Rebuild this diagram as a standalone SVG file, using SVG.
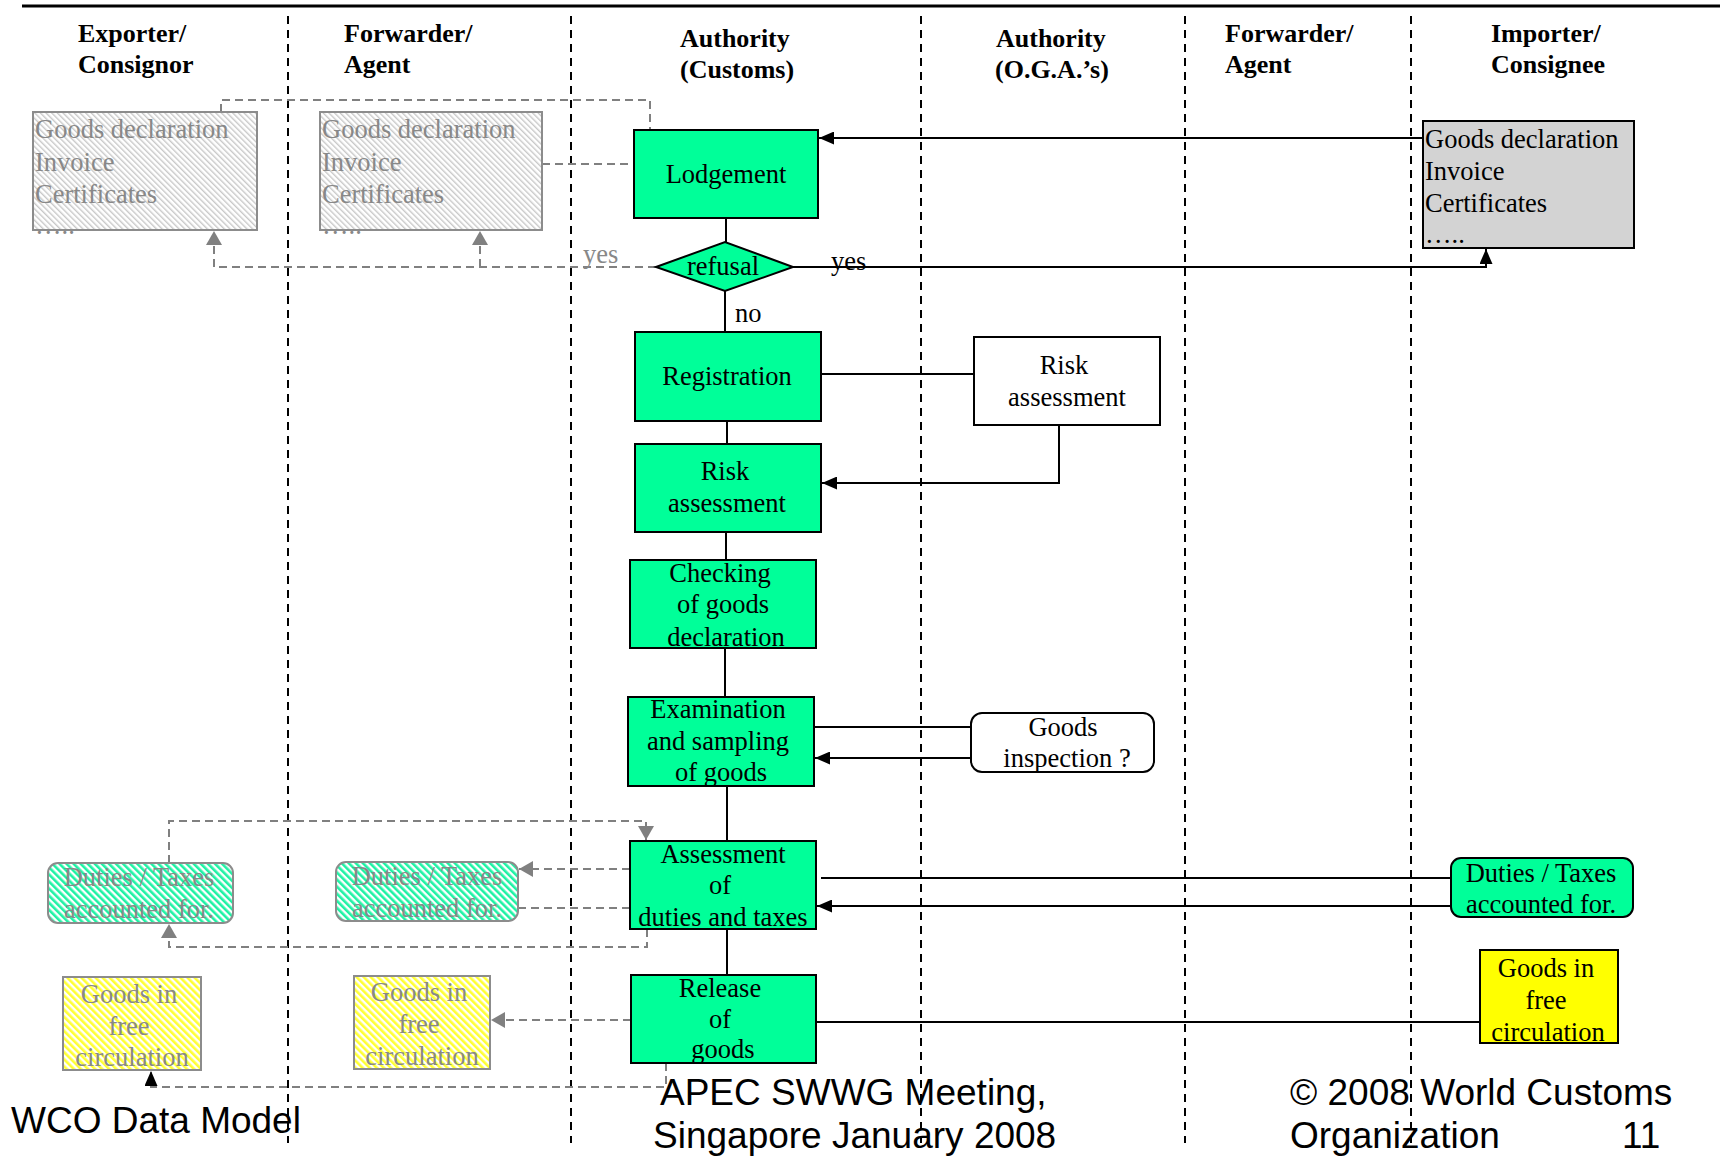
<svg xmlns="http://www.w3.org/2000/svg" width="1720" height="1159" viewBox="0 0 1720 1159">
<style>
.serif{font-family:"Liberation Serif","Times New Roman",serif;font-size:26.5px;fill:#000}
.hdr{font-family:"Liberation Serif","Times New Roman",serif;font-size:26px;font-weight:bold;fill:#000}
.gtx{font-family:"Liberation Serif","Times New Roman",serif;font-size:26.5px;fill:#888}
.sans{font-family:"Liberation Sans",Arial,sans-serif;font-size:37px;fill:#000}
.c{text-anchor:middle}
.green{fill:#00FF99;stroke:#000;stroke-width:2}
.lane{stroke:#000;stroke-width:2;stroke-dasharray:8 6;fill:none}
.ln{stroke:#000;stroke-width:2;fill:none}
.gd{stroke:#808080;stroke-width:2;stroke-dasharray:8 5;fill:none}
.gbox{stroke:#8c8c8c;stroke-width:2}
</style>
<defs>
<marker id="ab" markerUnits="userSpaceOnUse" markerWidth="15" markerHeight="13" refX="15" refY="6.5" orient="auto"><path d="M0,0 L15,6.5 L0,13 z" fill="#000"/></marker>
<marker id="ag" markerUnits="userSpaceOnUse" markerWidth="14" markerHeight="16" refX="14" refY="8" orient="auto"><path d="M0,0 L14,8 L0,16 z" fill="#808080"/></marker>
<pattern id="hGray" width="4" height="4" patternUnits="userSpaceOnUse" patternTransform="rotate(-45)"><rect width="4" height="4" fill="#fff"/><rect width="1.4" height="4" fill="#c8c8c8"/></pattern>
<pattern id="hGreen" width="5" height="5" patternUnits="userSpaceOnUse" patternTransform="rotate(-45)"><rect width="5" height="5" fill="#fff"/><rect width="2.6" height="5" fill="#1ef2a4"/></pattern>
<pattern id="hYel" width="5" height="5" patternUnits="userSpaceOnUse" patternTransform="rotate(-45)"><rect width="5" height="5" fill="#fff"/><rect width="2.6" height="5" fill="#ffff33"/></pattern>
</defs>
<rect width="1720" height="1159" fill="#fff"/>

<g id="lanes">
<line x1="22" y1="6" x2="1720" y2="6" stroke="#000" stroke-width="3"/>
<line class="lane" x1="288" y1="16" x2="288" y2="1143"/>
<line class="lane" x1="571" y1="16" x2="571" y2="1143"/>
<line class="lane" x1="921" y1="16" x2="921" y2="1143"/>
<line class="lane" x1="1185" y1="16" x2="1185" y2="1143"/>
<line class="lane" x1="1411" y1="16" x2="1411" y2="1143"/>
</g>

<g id="headers">
<text class="hdr" x="78" y="42">Exporter/</text>
<text class="hdr" x="78" y="73">Consignor</text>
<text class="hdr" x="344" y="42">Forwarder/</text>
<text class="hdr" x="344" y="73">Agent</text>
<text class="hdr" x="680" y="47">Authority</text>
<text class="hdr" x="680" y="78">(Customs)</text>
<text class="hdr" x="996" y="47">Authority</text>
<text class="hdr" x="995" y="78">(O.G.A.’s)</text>
<text class="hdr" x="1225" y="42">Forwarder/</text>
<text class="hdr" x="1225" y="73">Agent</text>
<text class="hdr" x="1491" y="42">Importer/</text>
<text class="hdr" x="1491" y="73">Consignee</text>
</g>

<g id="connectors">
<path class="ln" d="M1423 138 H819" marker-end="url(#ab)"/>
<path class="ln" d="M726 218 V242"/>
<path class="ln" d="M793 267 H1486 V249" marker-end="url(#ab)"/>
<path class="ln" d="M725 291 V332"/>
<path class="ln" d="M821 374 H974"/>
<path class="ln" d="M1059 425 V483 H822" marker-end="url(#ab)"/>
<path class="ln" d="M727 421 V444"/>
<path class="ln" d="M726 532 V560"/>
<path class="ln" d="M725 648 V697"/>
<path class="ln" d="M814 727 H971"/>
<path class="ln" d="M971 758 H815" marker-end="url(#ab)"/>
<path class="ln" d="M727 786 V841"/>
<path class="ln" d="M821 878 H1451"/>
<path class="ln" d="M1451 906 H817" marker-end="url(#ab)"/>
<path class="ln" d="M727 929 V975"/>
<path class="ln" d="M816 1022 H1480"/>
<path class="gd" d="M221 112 V100 H650 V130"/>
<path class="gd" d="M542 164 H634"/>
<path class="gd" d="M656 267 H214 V231" marker-end="url(#ag)"/>
<path class="gd" d="M480 267 V231" marker-end="url(#ag)"/>
<path class="gd" d="M169 863 V821 H646 V840" marker-end="url(#ag)"/>
<path class="gd" d="M630 869 H519" marker-end="url(#ag)"/>
<path class="gd" d="M518 908 H630"/>
<path class="gd" d="M647 929 V947 H169 V924" marker-end="url(#ag)"/>
<path class="gd" d="M631 1020 H491" marker-end="url(#ag)"/>
<path class="gd" d="M666 1063 V1087 H151 V1071" marker-end="url(#ab)"/>
</g>

<g id="exporter-docs">
<rect class="gbox" x="33" y="112" width="224" height="118" fill="url(#hGray)"/>
<text class="gtx" x="35" y="138">Goods declaration</text>
<text class="gtx" x="35" y="171">Invoice</text>
<text class="gtx" x="35" y="203">Certificates</text>
<text class="gtx" x="35" y="234">…..</text>
</g>
<g id="forwarder-docs">
<rect class="gbox" x="320" y="112" width="222" height="118" fill="url(#hGray)"/>
<text class="gtx" x="322" y="138">Goods declaration</text>
<text class="gtx" x="322" y="171">Invoice</text>
<text class="gtx" x="322" y="203">Certificates</text>
<text class="gtx" x="322" y="234">…..</text>
</g>
<g id="importer-docs">
<rect x="1423" y="121" width="211" height="127" fill="#d3d3d3" stroke="#000" stroke-width="2"/>
<text class="serif" x="1425" y="148">Goods declaration</text>
<text class="serif" x="1425" y="180">Invoice</text>
<text class="serif" x="1425" y="212">Certificates</text>
<text class="serif" x="1425" y="243">…..</text>
</g>

<g id="lodgement">
<rect class="green" x="634" y="130" width="184" height="88"/>
<text class="serif c" x="726" y="183">Lodgement</text>
</g>
<g id="refusal">
<polygon class="green" points="656,267 725,242 793,267 725,291"/>
<text class="serif c" x="723" y="275">refusal</text>
</g>
<g id="labels">
<text class="gtx" x="583" y="263">yes</text>
<text class="serif" x="831" y="270">yes</text>
<text class="serif" x="735" y="322">no</text>
</g>
<g id="registration">
<rect class="green" x="635" y="332" width="186" height="89"/>
<text class="serif c" x="727" y="385">Registration</text>
</g>
<g id="risk-oga">
<rect x="974" y="337" width="186" height="88" fill="#fff" stroke="#000" stroke-width="2"/>
<text class="serif c" x="1064" y="374">Risk</text>
<text class="serif c" x="1067" y="406">assessment</text>
</g>
<g id="risk-customs">
<rect class="green" x="635" y="444" width="186" height="88"/>
<text class="serif c" x="725" y="480">Risk</text>
<text class="serif c" x="727" y="512">assessment</text>
</g>
<g id="checking">
<rect class="green" x="630" y="560" width="186" height="88"/>
<text class="serif c" x="720" y="582">Checking</text>
<text class="serif c" x="723" y="613">of goods</text>
<text class="serif c" x="726" y="646">declaration</text>
</g>
<g id="examination">
<rect class="green" x="628" y="697" width="186" height="89"/>
<text class="serif c" x="718" y="718">Examination</text>
<text class="serif c" x="718" y="750">and sampling</text>
<text class="serif c" x="721" y="781">of goods</text>
</g>
<g id="goods-inspection">
<rect x="971" y="713" width="183" height="59" rx="11" fill="#fff" stroke="#000" stroke-width="2"/>
<text class="serif c" x="1063" y="736">Goods</text>
<text class="serif c" x="1067" y="767">inspection ?</text>
</g>
<g id="assessment">
<rect class="green" x="630" y="841" width="186" height="88"/>
<text class="serif c" x="723" y="863">Assessment</text>
<text class="serif c" x="720" y="894">of</text>
<text class="serif c" x="723" y="926">duties and taxes</text>
</g>
<g id="release">
<rect class="green" x="631" y="975" width="185" height="88"/>
<text class="serif c" x="720" y="997">Release</text>
<text class="serif c" x="720" y="1028">of</text>
<text class="serif c" x="723" y="1058">goods</text>
</g>
<g id="duties-importer">
<rect x="1451" y="858" width="182" height="59" rx="10" fill="#00FF99" stroke="#000" stroke-width="2"/>
<text class="serif c" x="1541" y="882">Duties / Taxes</text>
<text class="serif c" x="1541" y="913">accounted for.</text>
</g>
<g id="free-importer">
<rect x="1480" y="950" width="138" height="93" fill="#ffff00" stroke="#000" stroke-width="2"/>
<text class="serif c" x="1546" y="977">Goods in</text>
<text class="serif c" x="1546" y="1009">free</text>
<text class="serif c" x="1548" y="1041">circulation</text>
</g>
<g id="duties-exporter">
<rect class="gbox" x="48" y="863" width="185" height="60" rx="10" fill="url(#hGreen)"/>
<text class="gtx c" x="139" y="886">Duties / Taxes</text>
<text class="gtx c" x="139" y="918">accounted for.</text>
</g>
<g id="duties-forwarder">
<rect class="gbox" x="336" y="862" width="182" height="59" rx="10" fill="url(#hGreen)"/>
<text class="gtx c" x="427" y="885">Duties / Taxes</text>
<text class="gtx c" x="427" y="917">accounted for.</text>
</g>
<g id="free-exporter">
<rect class="gbox" x="63" y="977" width="138" height="93" fill="url(#hYel)"/>
<text class="gtx c" x="129" y="1003">Goods in</text>
<text class="gtx c" x="129" y="1035">free</text>
<text class="gtx c" x="132" y="1066">circulation</text>
</g>
<g id="free-forwarder">
<rect class="gbox" x="354" y="976" width="136" height="93" fill="url(#hYel)"/>
<text class="gtx c" x="419" y="1001">Goods in</text>
<text class="gtx c" x="419" y="1033">free</text>
<text class="gtx c" x="422" y="1065">circulation</text>
</g>

<g id="footer">
<text class="sans" x="11" y="1133">WCO Data Model</text>
<text class="sans" x="660" y="1105">APEC SWWG Meeting,</text>
<text class="sans" x="653" y="1148">Singapore January 2008</text>
<text class="sans" x="1290" y="1105">© 2008 World Customs</text>
<text class="sans" x="1290" y="1148">Organization</text>
<text class="sans" x="1622" y="1148">11</text>
</g>
</svg>
